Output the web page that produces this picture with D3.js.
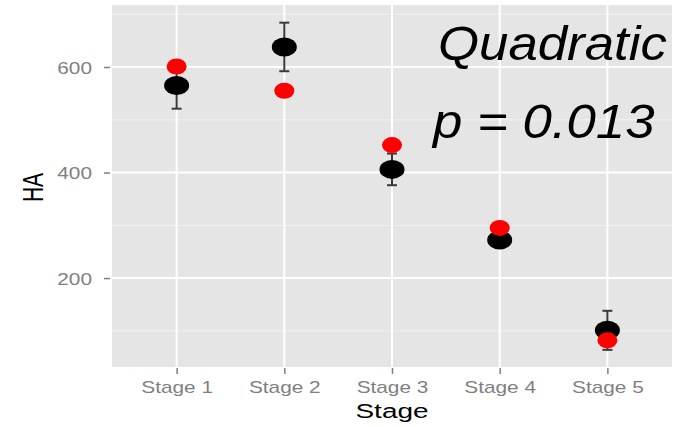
<!DOCTYPE html>
<html><head><meta charset="utf-8">
<script src="https://cdn.jsdelivr.net/npm/d3@7"></script>
<style>
html,body{margin:0;padding:0;background:#fff;}
svg{display:block;}
</style></head>
<body>
<svg id="chart" width="689" height="427"></svg>
<script>
// ---- data ----
const stages = ["Stage 1", "Stage 2", "Stage 3", "Stage 4", "Stage 5"];
const meanHA = [565, 638, 406, 272, 101];
const errHA = [44, 46, 30, 8, 37];
const redHA = [601, 555, 452, 295, 82];
const yTickValues = [200, 400, 600];
const yMinorValues = [100, 300, 500, 700];
const yDomain = [31.5, 717.5];
const annotation1 = "Quadratic";
const annotation2 = "p = 0.013";
const xTitle = "Stage";
const yTitle = "HA";

// ---- layout ----
const P = {left: 112, right: 672, top: 5, bottom: 367};
const SX = 1.3; // horizontal stretch of the original image's text

const svg = d3.select("#chart");
const x = d3.scalePoint().domain(stages).range([P.left, P.right]).padding(0.6);
const y = d3.scaleLinear().domain(yDomain).range([P.bottom, P.top]);

// panel
svg.append("rect").attr("x", P.left).attr("y", P.top)
  .attr("width", P.right - P.left).attr("height", P.bottom - P.top)
  .attr("fill", "#e5e5e5");

// minor grid
svg.append("g").selectAll("line").data(yMinorValues).join("line")
  .attr("x1", P.left).attr("x2", P.right)
  .attr("y1", d => y(d)).attr("y2", d => y(d))
  .attr("stroke", "#f2f2f2").attr("stroke-width", 1);
// major grid
svg.append("g").selectAll("line").data(yTickValues).join("line")
  .attr("x1", P.left).attr("x2", P.right)
  .attr("y1", d => y(d)).attr("y2", d => y(d))
  .attr("stroke", "#ffffff").attr("stroke-width", 2);
svg.append("g").selectAll("line").data(stages).join("line")
  .attr("x1", d => x(d)).attr("x2", d => x(d))
  .attr("y1", P.top).attr("y2", P.bottom)
  .attr("stroke", "#ffffff").attr("stroke-width", 2);

// axes
const yAxis = svg.append("g").attr("transform", `translate(${P.left - 2},0)`)
  .call(d3.axisLeft(y).tickValues(yTickValues).tickSize(6).tickSizeOuter(0));
yAxis.select(".domain").remove();
yAxis.selectAll(".tick line").attr("stroke", "#7f7f7f").attr("stroke-width", 1.5);
yAxis.selectAll(".tick text")
  .attr("x", null).attr("dy", null)
  .attr("transform", `translate(-18,6) scale(${SX},1)`)
  .attr("text-anchor", "end")
  .attr("fill", "#7f7f7f")
  .style("font-family", "'Liberation Sans', Arial, sans-serif")
  .style("font-size", "16px");

const xAxis = svg.append("g").attr("transform", `translate(0,${P.bottom + 1})`)
  .call(d3.axisBottom(x).tickSize(6).tickSizeOuter(0));
xAxis.select(".domain").remove();
xAxis.selectAll(".tick line").attr("stroke", "#7f7f7f").attr("stroke-width", 1.5);
xAxis.selectAll(".tick text")
  .attr("y", null).attr("dy", null)
  .attr("transform", `translate(0,25) scale(${SX},1)`)
  .attr("text-anchor", "middle")
  .attr("fill", "#7f7f7f")
  .style("font-family", "'Liberation Sans', Arial, sans-serif")
  .style("font-size", "16px");

// axis titles
svg.append("text")
  .attr("transform", `translate(${(P.left + P.right) / 2},418) scale(1.4,1)`)
  .attr("text-anchor", "middle")
  .style("font-family", "'Liberation Sans', Arial, sans-serif")
  .style("font-size", "20px").attr("fill", "#000")
  .text(xTitle);
svg.append("text")
  .attr("transform", `translate(43,${y(400) + 15}) scale(1.4,1) rotate(-90)`)
  .attr("text-anchor", "middle")
  .style("font-family", "'Liberation Sans', Arial, sans-serif")
  .style("font-size", "21px").attr("fill", "#000")
  .text(yTitle);

// data rows
const rows = stages.map((s, i) => ({stage: s, mean: meanHA[i], err: errHA[i], red: redHA[i]}));

// error bars
const eb = svg.append("g").selectAll("g").data(rows).join("g");
eb.append("line")
  .attr("x1", d => x(d.stage)).attr("x2", d => x(d.stage))
  .attr("y1", d => y(d.mean - d.err)).attr("y2", d => y(d.mean + d.err))
  .attr("stroke", "#3a3a3a").attr("stroke-width", 2);
eb.selectAll("line.w").data(d => [d.mean - d.err, d.mean + d.err].map(v => ({v, s: d.stage}))).join("line")
  .attr("class", "w")
  .attr("x1", d => x(d.s) - 5).attr("x2", d => x(d.s) + 5)
  .attr("y1", d => y(d.v)).attr("y2", d => y(d.v))
  .attr("stroke", "#3a3a3a").attr("stroke-width", 2);

// black mean points
svg.append("g").selectAll("ellipse").data(rows).join("ellipse")
  .attr("cx", d => x(d.stage)).attr("cy", d => y(d.mean))
  .attr("rx", 12.5).attr("ry", 9.5)
  .attr("fill", "#000");
// red points
svg.append("g").selectAll("ellipse").data(rows).join("ellipse")
  .attr("cx", d => x(d.stage)).attr("cy", d => y(d.red))
  .attr("rx", 10).attr("ry", 8)
  .attr("fill", "#ff0000");

// annotation
svg.append("text")
  .attr("transform", "translate(438,60) scale(1.1,1)")
  .style("font-family", "'Liberation Sans', Arial, sans-serif")
  .style("font-style", "italic").style("font-size", "48px")
  .attr("fill", "#000").text(annotation1);
svg.append("text")
  .attr("transform", "translate(433,138) scale(1.1,1)")
  .style("font-family", "'Liberation Sans', Arial, sans-serif")
  .style("font-style", "italic").style("font-size", "48px")
  .attr("fill", "#000").text(annotation2);
</script>
</body></html>
